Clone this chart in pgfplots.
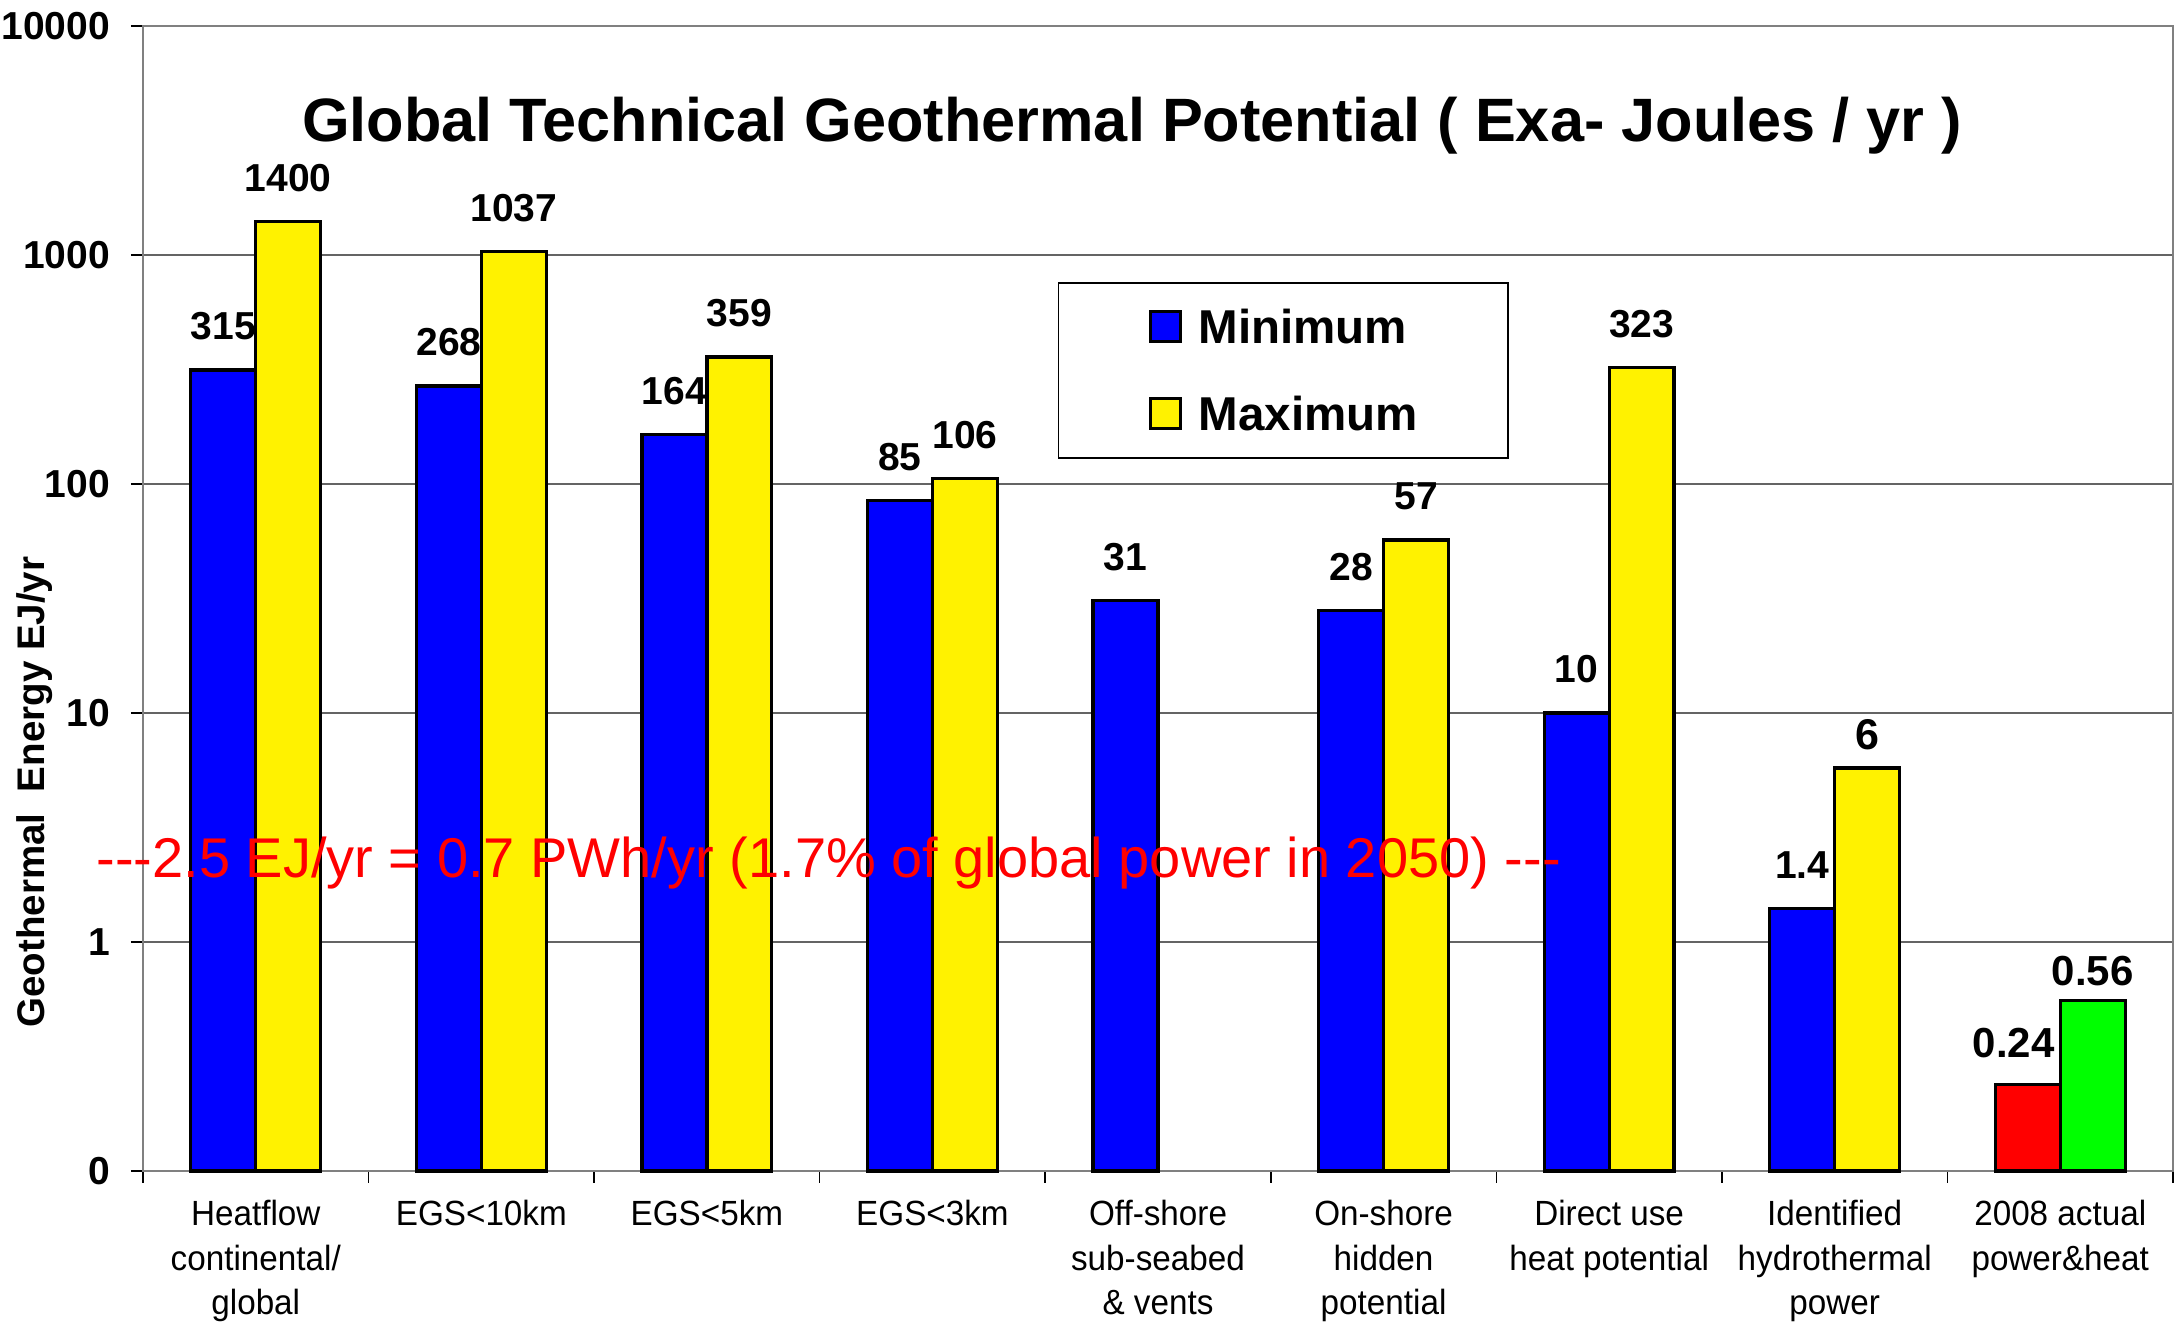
\documentclass[border=0pt]{standalone}
\usepackage{pgfplots}
\pgfplotsset{compat=1.18}
\usepackage{fontspec}
\setmainfont{Liberation Sans}
\newfontfamily\catfont{Liberation Sans}[FakeStretch=0.95]
\definecolor{gridc}{RGB}{100,100,100}
\definecolor{axc}{RGB}{128,128,128}
\begin{document}
\begin{tikzpicture}[x=1pt,y=1pt]
\begin{axis}[
  at={(0,0)}, anchor=south west,
  scale only axis, width=406pt, height=229pt,
  ymode=log, log origin=infty,
  ymin=0.1, ymax=10000,
  xmin=-0.5, xmax=8.5,
  clip=false,
  ybar, bar width=0.288,
  ytick={0.1,1,10,100,1000,10000},
  yticklabels={0,1,10,100,1000,10000},
  xtick={-0.5,0.5,1.5,2.5,3.5,4.5,5.5,6.5,7.5,8.5},
  x tick label as interval,
  xticklabels={{Heatflow\\continental/\\global},{EGS<10km},{EGS<5km},{EGS<3km},{Off-shore\\sub-seabed\\\& vents},{On-shore\\hidden\\potential},{Direct use\\heat potential},{Identified\\hydrothermal\\power},{2008 actual\\power\&heat}},
  x tick label style={font=\catfont\fontsize{7}{8.9}\selectfont, align=center, anchor=north, inner sep=0pt, yshift=-3.3pt},
  y tick label style={font=\fontsize{7.8}{7.8}\selectfont\bfseries, anchor=east, inner sep=0pt, xshift=-4pt},
  tick pos=left, tick align=outside,
  major tick length=2.4pt,
  tick style={black, line width=0.3pt},
  yminorticks=false, xminorticks=false,
  axis line style={axc, line width=0.45pt},
  ymajorgrids, major grid style={gridc, line width=0.3pt},
  point meta=explicit symbolic,
  nodes near coords,
  nodes near coords style={font=\fontsize{7.8}{7.8}\selectfont\bfseries, anchor=south, inner sep=0pt, yshift=5.6pt},
  legend style={at={(rel axis cs:0.4507,0.7764)}, anchor=north west, draw=black, line width=0.3pt,
    font=\fontsize{9.5}{9.5}\selectfont\bfseries, inner xsep=18pt, inner ysep=5.4pt, row sep=10.6pt, column sep=3.4pt,
    nodes={inner sep=0pt, text height=6.8pt, text depth=0pt}},
  legend cell align=left,
]
\addplot[fill=blue, draw=black, line width=0.65pt, bar shift=-0.144,
  legend image code/.code={\draw[fill=blue, draw=black, line width=0.6pt] (0pt,-3pt) rectangle (6pt,3pt);}]
  coordinates {(0,315) [315] (1,268) [268] (2,164) [164] (3,85) [85] (4,31) [31] (5,28) [28] (6,10) [10] (7,1.4) [1.4]};
\addlegendentry{Minimum}
\addplot[fill=yellow, draw=black, line width=0.65pt, bar shift=0.144,
  legend image code/.code={\draw[fill=yellow, draw=black, line width=0.6pt] (0pt,-3pt) rectangle (6pt,3pt);}]
  coordinates {(0,1400) [1400] (1,1037) [1037] (2,359) [359] (3,106) [106] (5,57) [57] (6,323) [323]};
\addlegendentry{Maximum}
\addplot[fill=yellow, draw=black, line width=0.65pt, bar shift=0.144, forget plot,
  nodes near coords style={font=\fontsize{8.6}{8.6}\selectfont\bfseries, yshift=-2.2pt}]
  coordinates {(7,5.75) [6]};
\addplot[fill=red, draw=black, line width=0.65pt, bar shift=-0.144, forget plot,
  nodes near coords style={font=\fontsize{8.4}{8.4}\selectfont\bfseries, xshift=-2.8pt, yshift=-0.6pt}]
  coordinates {(8,0.238) [0.24]};
\addplot[fill=green, draw=black, line width=0.65pt, bar shift=0.144, forget plot,
  nodes near coords style={font=\fontsize{8.4}{8.4}\selectfont\bfseries, yshift=-3pt}]
  coordinates {(8,0.557) [0.56]};
\node[text=red, font=\fontsize{11.2}{11.2}\selectfont, anchor=base, inner sep=0pt] at (axis cs:2.54,1.92)
  {-{}-{}-2.5 EJ/yr = 0.7 PWh/yr (1.7\% of global power in 2050) -{}-{}-};
\end{axis}
\node[font=\fontsize{12.25}{12.25}\selectfont\bfseries] at (197.8pt,209pt)
  {Global Technical Geothermal Potential ( Exa- Joules / yr )};
\node[rotate=90, font=\fontsize{7.7}{7.7}\selectfont\bfseries] at (-21.7pt,75.8pt)
  {Geothermal\ \ Energy EJ/yr};
\pgfresetboundingbox
\path (-28.6pt,-30.8pt) rectangle (407.2pt,234.2pt);
\end{tikzpicture}
\end{document}
